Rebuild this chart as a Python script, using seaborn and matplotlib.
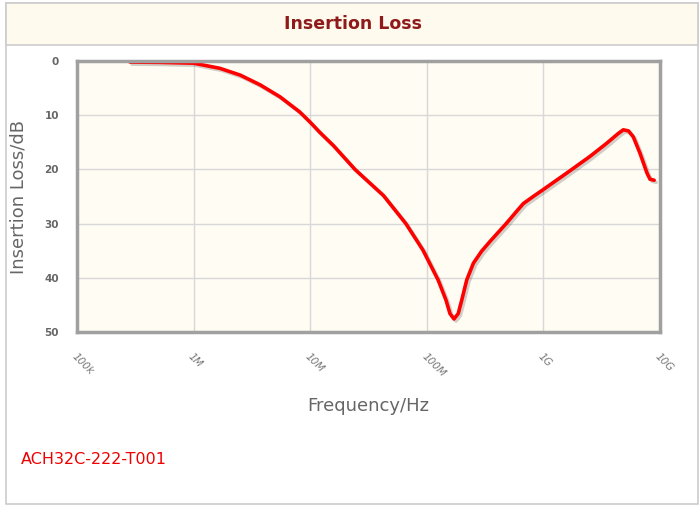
import numpy as np
import pandas as pd
import matplotlib
matplotlib.use("Agg")
import matplotlib.pyplot as plt
import matplotlib.patheffects as pe
from matplotlib.patches import Rectangle
import seaborn as sns

freq_hz = [2.85e5, 5e5, 1e6, 1.68e6, 2.51e6, 3.72e6, 5.5e6, 8.13e6, 1e7, 1.2e7, 1.58e7,
           2.42e7, 4.24e7, 6.61e7, 9.27e7, 1.25e8, 1.46e8, 1.58e8, 1.71e8, 1.86e8,
           2e8, 2.2e8, 2.51e8, 2.95e8, 3.48e8, 4.84e8, 5.75e8, 6.73e8, 8.18e8, 1e9,
           1.58e9, 2.51e9, 3.48e9, 4.37e9, 4.84e9, 5.37e9, 5.9e9, 6.73e9, 7.74e9,
           8.2e9, 8.91e9]
loss_db = [0.2, 0.25, 0.4, 1.35, 2.6, 4.4, 6.6, 9.4, 11.3, 13.1, 15.6,
           20.0, 24.8, 30.0, 34.9, 40.4, 44.1, 46.6, 47.6, 46.6,
           44.0, 40.4, 37.3, 35.1, 33.3, 29.9, 28.0, 26.3, 25.0, 23.7,
           20.7, 17.6, 15.2, 13.4, 12.7, 12.9, 14.0, 17.0, 20.7,
           21.8, 22.0]
xtick_vals = [1e5, 1e6, 1e7, 1e8, 1e9, 1e10]
xtick_labels = ["100k", "1M", "10M", "100M", "1G", "10G"]
ytick_vals = [0, 10, 20, 30, 40, 50]

df = pd.DataFrame({"freq": freq_hz, "loss": loss_db})

sns.set_style("white")
fig = plt.figure(figsize=(6.99, 5.07), dpi=100)

# background axes: outer border and header band
bg = fig.add_axes([0, 0, 1, 1], zorder=0)
bg.set_xlim(0, 699)
bg.set_ylim(507, 0)
bg.axis("off")
bg.add_patch(Rectangle((6, 3), 692, 501, facecolor="white", edgecolor="#cccccc", lw=1.2))
bg.add_patch(Rectangle((6, 3), 692, 42, facecolor="#fefaee", edgecolor="#cccccc", lw=1.2))
bg.text(353, 24, "Insertion Loss", ha="center", va="center",
        color="#8f1a1a", fontsize=12.5, fontweight="bold")
bg.text(21, 460, "ACH32C-222-T001", ha="left", va="center",
        color="#ee0000", fontsize=11.5)

ax = fig.add_axes([77/699, 1 - 332/507, (660-77)/699, (332-61)/507], zorder=2)
ax.set_facecolor("#fffcf3")
sns.lineplot(data=df, x="freq", y="loss", ax=ax, color="#ff0000", lw=2.6,
             solid_joinstyle="round", solid_capstyle="round",
             path_effects=[pe.SimpleLineShadow(offset=(1.5, -1.5), shadow_color="black", alpha=0.18),
                           pe.Normal()])
ax.set_xscale("log")
ax.set_xlim(1e5, 1e10)
ax.set_ylim(50, 0)
ax.set_xticks(xtick_vals)
ax.set_xticklabels(xtick_labels, rotation=-45, ha="left", va="top", fontsize=7.5,
                   color="#777777", style="italic", rotation_mode="anchor")
ax.minorticks_off()
ax.set_yticks(ytick_vals)
ax.set_yticklabels([str(v) for v in ytick_vals], fontsize=7.5, color="#666666", fontweight="bold")
ax.tick_params(axis="both", which="major", length=5, width=1, color="#aaaaaa", direction="out", pad=8)
ax.tick_params(axis="x", pad=9)
ax.grid(True, color="#d8d8d8", lw=1)
for s in ax.spines.values():
    s.set_color("#a0a0a0")
    s.set_linewidth(2.5)
ax.set_xlabel("Frequency/Hz", fontsize=13, color="#666666")
ax.set_ylabel("Insertion Loss/dB", fontsize=13, color="#666666")
ax.xaxis.set_label_coords(0.5, -0.24)
ax.yaxis.set_label_coords(-0.085, 0.5)

fig.savefig("out.png", dpi=100)
